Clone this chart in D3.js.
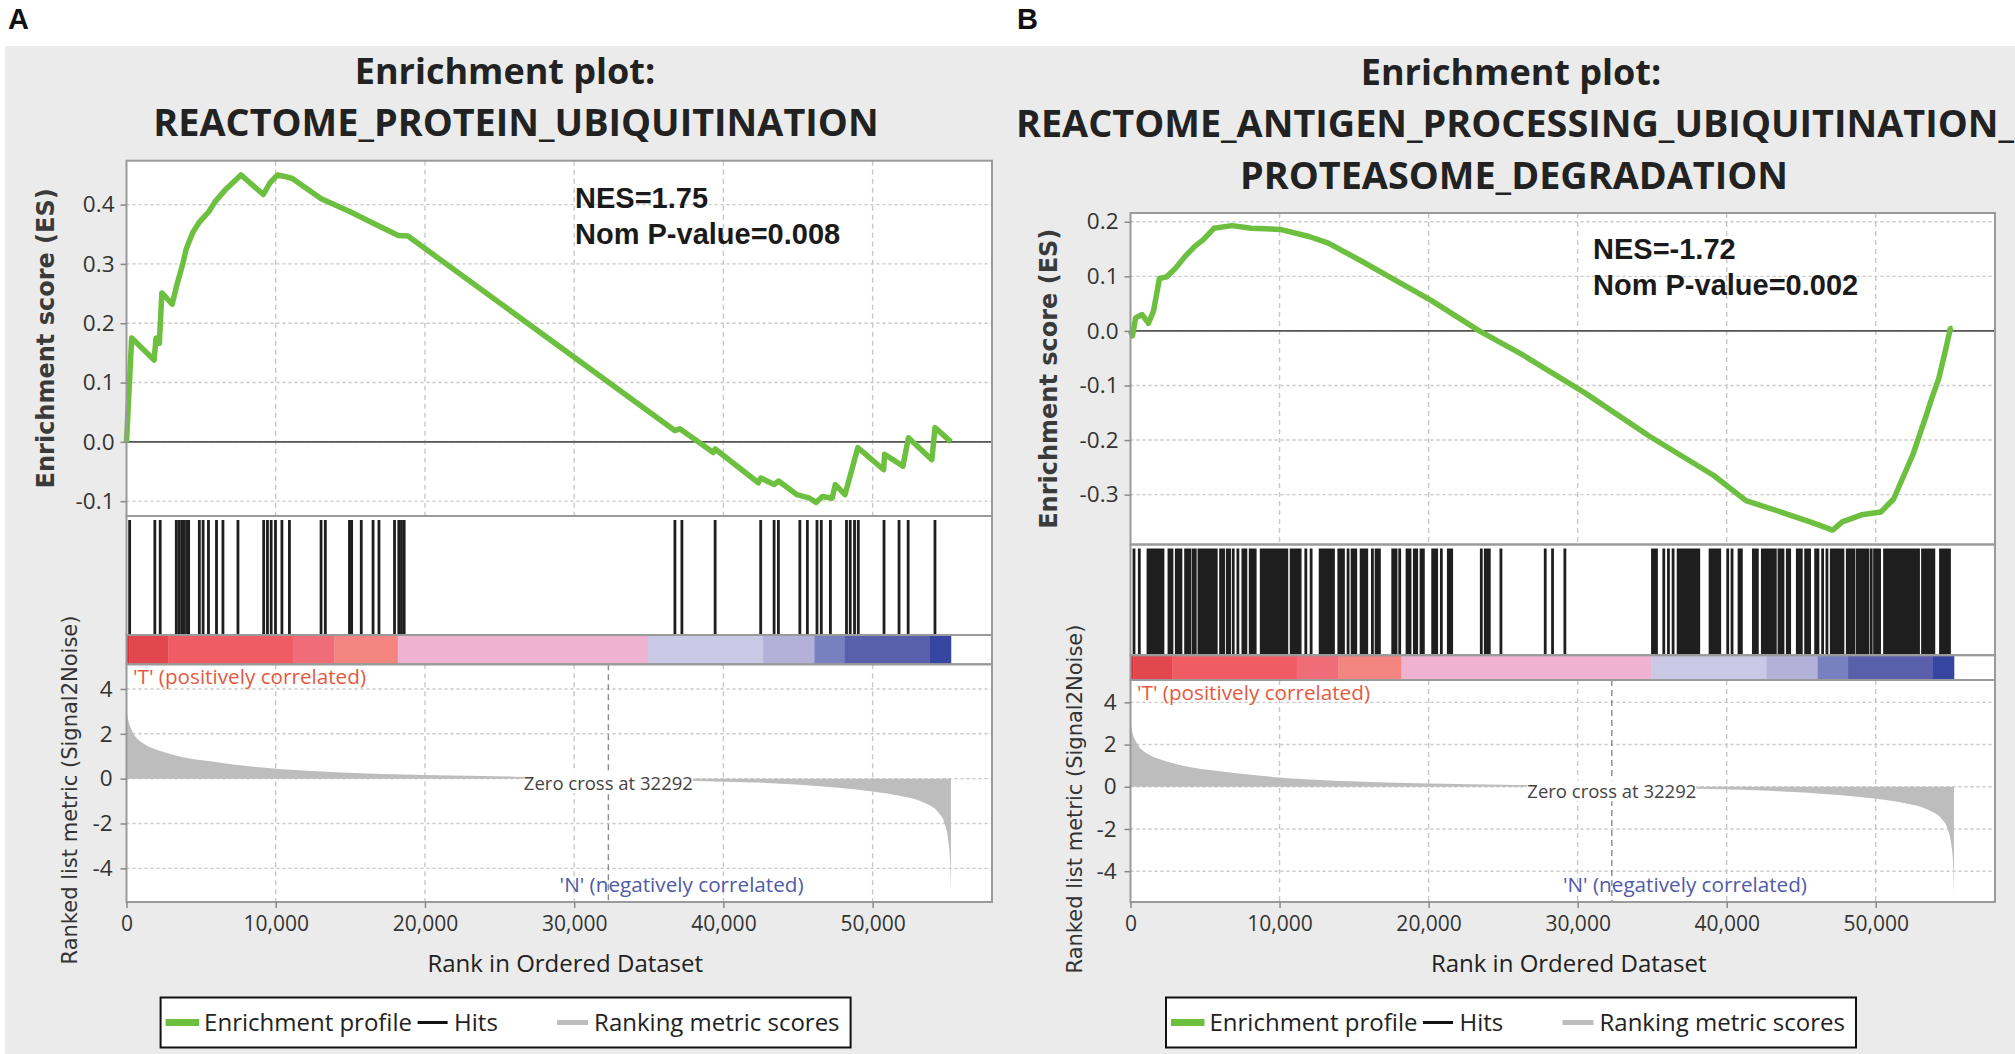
<!DOCTYPE html>
<html><head><meta charset="utf-8">
<script src="https://cdn.jsdelivr.net/npm/d3@7"></script>
<style>body{margin:0;background:#fff}svg{display:block}</style>
</head><body>
<svg id="c" width="2015" height="1054"></svg>
<script>
// ---------------- DATA ----------------
const rankTicks = [0, 10000, 20000, 30000, 40000, 50000];
const totalRanks = 55250;
const zeroCross = 32292;
const metricTicks = [-4, -2, 0, 2, 4];
const esTicksA = [-0.1, 0.0, 0.1, 0.2, 0.3, 0.4];
const esTicksB = [-0.3, -0.2, -0.1, 0.0, 0.1, 0.2];

const titleA = ["Enrichment plot:", "REACTOME_PROTEIN_UBIQUITINATION"];
const titleB = ["Enrichment plot:", "REACTOME_ANTIGEN_PROCESSING_UBIQUITINATION_", "PROTEASOME_DEGRADATION"];
const statsA = ["NES=1.75", "Nom P-value=0.008"];
const statsB = ["NES=-1.72", "Nom P-value=0.002"];
const panelLetters = ["A", "B"];
const legendLabels = ["Enrichment profile", "Hits", "Ranking metric scores"];
const posLabel = "'T' (positively correlated)";
const negLabel = "'N' (negatively correlated)";
const zeroLabel = "Zero cross at 32292";
const esAxisLabel = "Enrichment score (ES)";
const metricAxisLabel = "Ranked list metric (Signal2Noise)";
const xAxisLabel = "Rank in Ordered Dataset";

// ranked list metric (rank, value) – shared ranked list
const metricPoints = [
  [0, 3.05], [120, 2.6], [345, 2.17], [700, 1.8], [1206, 1.54], [2283, 1.23],
  [3574, 0.99], [5728, 0.76], [8743, 0.52], [11757, 0.36], [15633, 0.24],
  [19940, 0.16], [25969, 0.09], [32292, 0.0], [38889, -0.11], [43196, -0.2],
  [47503, -0.39], [50000, -0.57], [51809, -0.76], [53532, -1.1], [54393, -1.5],
  [54823, -2.0], [55082, -2.8], [55200, -3.8], [55250, -5.0]
];

// colour bar segment boundaries (ranks) and colours
const colorBarBreaks = [0, 200, 2790, 11150, 13930, 18180, 34950, 42660, 46100, 48140, 53810, 55250];
const colorBarColors = ["#d73038", "#e3474e", "#f05c64", "#f06c79", "#f3847f", "#efb3d1",
                        "#c9c9e5", "#b4b1d9", "#7880c0", "#5a5fab", "#3545a0"];

// Panel A: running enrichment score (rank, ES)
const esCurveA = [
  [0, 0.0], [130, 0.067], [345, 0.175], [1850, 0.138], [1980, 0.175], [2200, 0.166],
  [2370, 0.251], [3060, 0.232], [3360, 0.263], [3790, 0.302], [4000, 0.325],
  [4440, 0.353], [4870, 0.37], [5510, 0.388], [5940, 0.405], [6590, 0.424],
  [7670, 0.45], [9170, 0.417], [9600, 0.436], [10120, 0.45], [10680, 0.447],
  [11110, 0.444], [13050, 0.41], [14990, 0.388], [16500, 0.369], [18220, 0.348],
  [18860, 0.347], [36740, 0.019], [37080, 0.022], [39320, -0.018], [39450, -0.012],
  [42340, -0.069], [42500, -0.061], [43400, -0.072], [43700, -0.066], [44920, -0.089],
  [45780, -0.095], [46210, -0.102], [46640, -0.092], [47290, -0.095], [47500, -0.072],
  [48150, -0.089], [49010, -0.0096], [50740, -0.047], [50800, -0.021], [52030, -0.041],
  [52400, 0.007], [53970, -0.03], [54180, 0.024], [55250, 0.0]
];
// Panel A: hit ranks
const hitsA = [
  211, 1899, 2259, 3337, 3516, 3696, 3876, 4055, 4163, 4882, 5133, 5492, 6031, 6463,
  7469, 9193, 9445, 9696, 9984, 10415, 10918, 13038, 13325, 14942, 15086, 15732,
  16523, 16918, 17961, 18248, 18427, 18607, 36751, 37219, 39446, 42500, 43398,
  43686, 45124, 45627, 46273, 46560, 47171, 48249, 48500, 48788, 49040, 50764,
  51770, 52381, 54178
];

// Panel B: running enrichment score (rank, ES)
const esCurveB = [
  [0, 0.0], [130, -0.009], [345, 0.024], [775, 0.03], [1207, 0.014], [1550, 0.037],
  [1940, 0.096], [2410, 0.099], [3020, 0.115], [3710, 0.138], [4310, 0.155],
  [4870, 0.167], [5600, 0.188], [6810, 0.193], [8100, 0.188], [10040, 0.186],
  [11980, 0.173], [13270, 0.161], [15430, 0.129], [17580, 0.096], [20170, 0.056],
  [23400, 0.0], [26200, -0.042], [30510, -0.114], [34820, -0.193], [39130, -0.265],
  [41290, -0.311], [43440, -0.33], [45600, -0.35], [47110, -0.365], [47750, -0.35],
  [49050, -0.337], [50340, -0.332], [51200, -0.308], [52500, -0.226], [53360, -0.157],
  [53790, -0.121], [54220, -0.088], [54650, -0.039], [55000, 0.004], [55170, 0.005]
];
// Panel B: hit blocks (first rank, last rank) – dense hits drawn as runs
const hitRangesB = [
  [235, 235], [592, 592], [1173, 2178], [2580, 2781], [3072, 3384], [3697, 3965],
  [4189, 4345], [4591, 5753], [6043, 6244], [6490, 6646], [6892, 6892], [7205, 7205],
  [7540, 7741], [8031, 8366], [8769, 10489], [10779, 11382], [11762, 11762],
  [12119, 12119], [12723, 13616], [13974, 14287], [14599, 14599], [14867, 15113],
  [15471, 15850], [16230, 16230], [16476, 16700], [17593, 17816], [18062, 18062],
  [18553, 18754], [19045, 19201], [19491, 19648], [20273, 20541], [20854, 20854],
  [21323, 21547], [23535, 23535], [23803, 24071], [24853, 24853], [27824, 27824],
  [28316, 28316], [29143, 29143], [35019, 35287], [35778, 35778], [36091, 36091],
  [36404, 36404], [36739, 38124], [38884, 39532], [40068, 40068], [40358, 40358],
  [40827, 40984], [41788, 42056], [42391, 43262], [43508, 43776], [44066, 44223],
  [44736, 45005], [45295, 45563], [45966, 46122], [46435, 46435], [46725, 46725],
  [47015, 47797], [48088, 48535], [48758, 49473], [49696, 49696], [49920, 50255],
  [50590, 52869], [53137, 53897], [54343, 54946]
];

// ---------------- LAYOUT ----------------
const GREEN = "#6dbf40";
const svg = d3.select("#c");
svg.append("rect").attr("x", 5).attr("y", 46).attr("width", 2010).attr("height", 1008).attr("fill", "#ebebeb");

const panels = [
  { letter: panelLetters[0], letterX: 8, titleX: [505, 516], title: titleA, titleY: 84,
    left: 126.5, right: 992, esTop: 160.7, esBottom: 516, hitsBottom: 635, barBottom: 664.3, mBottom: 902,
    esDomain: [-0.125, 0.474], mDomain: [-5.5, 5.1], esTicks: esTicksA, stats: statsA,
    statsX: 575, statsY: 208, esLabelX: 46, metricLabelX: 70, metricLabelY: 790,
    es: esCurveA, hits: hitsA.map(h => [h, h]), legendX: 160.6 },
  { letter: panelLetters[1], letterX: 1017, titleX: [1511, 1515, 1514], title: titleB, titleY: 85,
    left: 1130.5, right: 1995, esTop: 213, esBottom: 544.5, hitsBottom: 655.2, barBottom: 680, mBottom: 902,
    esDomain: [-0.3914, 0.2161], mDomain: [-5.46, 5.06], esTicks: esTicksB, stats: statsB,
    statsX: 1593, statsY: 259, esLabelX: 1049, metricLabelX: 1074.5, metricLabelY: 799,
    es: esCurveB, hits: hitRangesB, legendX: 1166 }
];

const tickFont = "'Open Sans', sans-serif";
const hyphen = f => d => f(d).replace("\u2212", "-");

panels.forEach(p => {
  const g = svg.append("g");
  const x = d3.scaleLinear().domain([0, 58000]).range([p.left, p.right]);
  const yE = d3.scaleLinear().domain(p.esDomain).range([p.esBottom, p.esTop]);
  const yM = d3.scaleLinear().domain(p.mDomain).range([p.mBottom, p.barBottom]);

  // panel letter
  svg.append("text").attr("x", p.letterX).attr("y", 29).text(p.letter)
    .attr("font-family", "'Liberation Sans', Arial, sans-serif").attr("font-weight", "bold")
    .attr("font-size", 29).attr("fill", "#111");

  // title
  p.title.forEach((t, i) => {
    g.append("text").attr("x", p.titleX[i]).attr("y", p.titleY + i * 51.8).text(t)
      .attr("text-anchor", "middle").attr("font-family", tickFont).attr("font-weight", "bold")
      .attr("font-size", i === 0 ? 36 : 37.8).attr("fill", "#222");
  });

  // white plot backgrounds
  g.append("rect").attr("x", p.left).attr("y", p.esTop).attr("width", p.right - p.left)
    .attr("height", p.mBottom - p.esTop).attr("fill", "#fff");

  // grids
  const gridC = "#c8c8c8";
  [[p.esTop, p.esBottom], [p.barBottom, p.mBottom]].forEach(([a, b]) => {
    g.selectAll(null).data(rankTicks.slice(1)).enter().append("line")
      .attr("x1", d => x(d)).attr("x2", d => x(d)).attr("y1", a).attr("y2", b)
      .attr("stroke", gridC).attr("stroke-width", 1.4).attr("stroke-dasharray", "5,4");
  });
  g.selectAll(null).data(p.esTicks).enter().append("line")
    .attr("x1", p.left).attr("x2", p.right).attr("y1", d => yE(d)).attr("y2", d => yE(d))
    .attr("stroke", gridC).attr("stroke-width", 1.4).attr("stroke-dasharray", "3,3");
  g.selectAll(null).data(metricTicks).enter().append("line")
    .attr("x1", p.left).attr("x2", p.right).attr("y1", d => yM(d)).attr("y2", d => yM(d))
    .attr("stroke", gridC).attr("stroke-width", 1.4).attr("stroke-dasharray", "3,3");

  // ES zero line
  g.append("line").attr("x1", p.left).attr("x2", p.right).attr("y1", yE(0)).attr("y2", yE(0))
    .attr("stroke", "#555").attr("stroke-width", 1.6);

  // ES curve
  g.append("path").datum(p.es)
    .attr("d", d3.line().x(d => x(d[0])).y(d => yE(d[1])))
    .attr("fill", "none").attr("stroke", GREEN).attr("stroke-width", 5.5).attr("stroke-linejoin", "round");

  // stats
  p.stats.forEach((s, i) => {
    g.append("text").attr("x", p.statsX).attr("y", p.statsY + i * 35.5).text(s)
      .attr("font-family", "'Liberation Sans', Arial, sans-serif").attr("font-weight", "bold")
      .attr("font-size", 29).attr("fill", "#1a1a1a");
  });

  // hits
  g.selectAll(null).data(p.hits).enter().append("rect")
    .attr("x", d => x(d[0]) - 1.4).attr("width", d => x(d[1]) - x(d[0]) + 2.8)
    .attr("y", p.esBottom + 4).attr("height", p.hitsBottom - p.esBottom - 5)
    .attr("fill", "#1e1e1e");

  // colour bar
  g.selectAll(null).data(colorBarColors).enter().append("rect")
    .attr("x", (d, i) => x(colorBarBreaks[i])).attr("width", (d, i) => x(colorBarBreaks[i + 1]) - x(colorBarBreaks[i]) + 0.3)
    .attr("y", p.hitsBottom).attr("height", p.barBottom - p.hitsBottom)
    .attr("fill", d => d);

  // metric area
  g.append("path").datum(metricPoints)
    .attr("d", d3.area().x(d => x(d[0])).y0(yM(0)).y1(d => yM(d[1])).curve(d3.curveMonotoneX))
    .attr("fill", "#bdbdbd");

  // zero cross
  g.append("line").attr("x1", x(zeroCross)).attr("x2", x(zeroCross)).attr("y1", p.barBottom).attr("y2", p.mBottom)
    .attr("stroke", "#8a8a8a").attr("stroke-width", 1.4).attr("stroke-dasharray", "6,4");
  const zt = g.append("text").attr("x", x(zeroCross)).attr("y", yM(0) + 11.5).text(zeroLabel)
    .attr("text-anchor", "middle").attr("font-family", tickFont).attr("font-size", 18.5).attr("fill", "#444");
  const bb = zt.node().getBBox();
  g.insert("rect", () => zt.node()).attr("x", bb.x).attr("y", bb.y + 2).attr("width", bb.width).attr("height", bb.height - 4).attr("fill", "#fff");

  g.append("text").attr("x", p.left + 6.5).attr("y", p.barBottom + 20).text(posLabel)
    .attr("font-family", tickFont).attr("font-size", 20.7).attr("fill", "#e5593f");
  g.append("text").attr("x", x(37200)).attr("y", p.mBottom - 10).text(negLabel)
    .attr("text-anchor", "middle").attr("font-family", tickFont).attr("font-size", 20.7).attr("fill", "#4f5aa8");

  // frames
  [[p.esTop, p.esBottom], [p.esBottom, p.hitsBottom], [p.hitsBottom, p.barBottom], [p.barBottom, p.mBottom]].forEach(([a, b]) => {
    g.append("rect").attr("x", p.left).attr("y", a).attr("width", p.right - p.left).attr("height", b - a)
      .attr("fill", "none").attr("stroke", "#9a9a9a").attr("stroke-width", 2);
  });

  // axes
  const axE = d3.axisLeft(yE).tickValues(p.esTicks).tickFormat(hyphen(d3.format(".1f"))).tickSize(6).tickPadding(6);
  const axM = d3.axisLeft(yM).tickValues(metricTicks).tickFormat(hyphen(d3.format("d"))).tickSize(6).tickPadding(8);
  const axX = d3.axisBottom(x).tickValues(rankTicks).tickFormat(d3.format(",")).tickSize(6).tickPadding(8);
  [[axE, `translate(${p.left},0)`, 22.5], [axM, `translate(${p.left},0)`, 22.5], [axX, `translate(0,${p.mBottom})`, 21]].forEach(([ax, tr, fs]) => {
    const a = g.append("g").attr("transform", tr).call(ax);
    a.select(".domain").remove();
    a.selectAll("line").attr("stroke", "#888").attr("stroke-width", 1.5);
    a.selectAll("text").attr("font-family", tickFont).attr("font-size", fs).attr("fill", "#333");
  });

  // axis titles
  g.append("text").attr("transform", `translate(${p.esLabelX},${(p.esTop + p.esBottom) / 2}) rotate(-90)`)
    .attr("dy", "0.35em").attr("text-anchor", "middle").text(esAxisLabel)
    .attr("font-family", "'DejaVu Sans', sans-serif").attr("font-weight", "bold").attr("font-size", 24).attr("fill", "#3a3a3a");
  g.append("text").attr("transform", `translate(${p.metricLabelX},${p.metricLabelY}) rotate(-90)`)
    .attr("dy", "0.35em").attr("text-anchor", "middle").text(metricAxisLabel)
    .attr("font-family", "'DejaVu Sans', sans-serif").attr("font-size", 21).attr("fill", "#333");
  g.append("text").attr("x", (p.left + p.right) / 2 + 6).attr("y", 972).attr("text-anchor", "middle").text(xAxisLabel)
    .attr("font-family", tickFont).attr("font-size", 24).attr("fill", "#222");

  // legend
  const L = g.append("g").attr("transform", `translate(${p.legendX},997.5)`);
  L.append("rect").attr("width", 690).attr("height", 50).attr("fill", "#fff").attr("stroke", "#111").attr("stroke-width", 2);
  const items = [
    { x1: 5, x2: 38.5, color: GREEN, w: 7, tx: 43.5 },
    { x1: 257, x2: 287, color: "#111", w: 3, tx: 293.5 },
    { x1: 396.5, x2: 427.5, color: "#bdbdbd", w: 5, tx: 433.5 }
  ];
  items.forEach((it, i) => {
    L.append("line").attr("x1", it.x1).attr("x2", it.x2).attr("y1", 25).attr("y2", 25)
      .attr("stroke", it.color).attr("stroke-width", it.w);
    L.append("text").attr("x", it.tx).attr("y", 33).text(legendLabels[i])
      .attr("font-family", tickFont).attr("font-size", 24).attr("fill", "#222");
  });
});
</script>
</body></html>
